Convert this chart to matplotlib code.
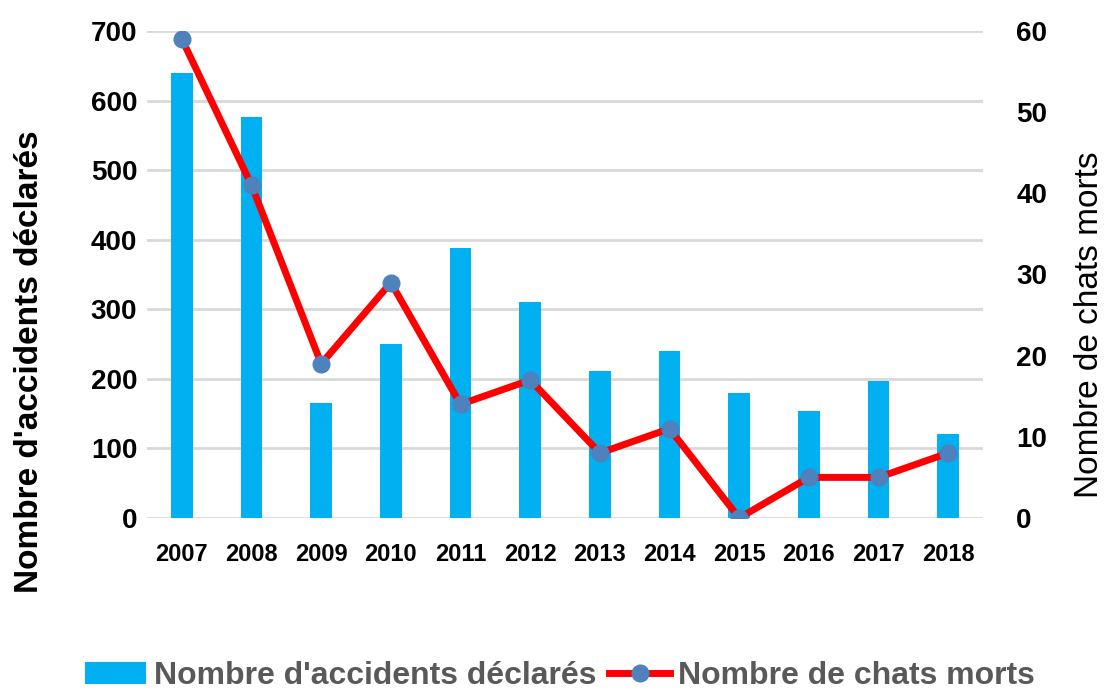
import matplotlib.pyplot as plt
import numpy as np

years = ['2007', '2008', '2009', '2010', '2011', '2012',
         '2013', '2014', '2015', '2016', '2017', '2018']
accidents = [640, 577, 165, 250, 388, 310, 211, 240, 180, 154, 197, 121]
chats_morts = [59, 41, 19, 29, 14, 17, 8, 11, 0, 5, 5, 8]

plt.rcParams['font.family'] = ['Liberation Sans', 'DejaVu Sans']

fig = plt.figure(figsize=(11.09, 6.95), dpi=100)
ax = fig.add_axes([0.1326, 0.2547, 0.7538, 0.7007])
x = np.arange(len(years))

bars = ax.bar(x, accidents, width=0.31, color='#00b0f0', zorder=2,
              label="Nombre d'accidents déclarés")
ax.set_ylim(0, 700)
ax.set_xlim(-0.5, len(years) - 0.5)
ax.set_yticks(range(0, 701, 100))
ax.grid(axis='y', color='#d9d9d9', linewidth=2, zorder=0)
ax.set_axisbelow(True)
for s in ax.spines.values():
    s.set_visible(False)
ax.tick_params(length=0)
ax.set_xticks(x)
ax.set_xticklabels(years, fontsize=17, fontweight='bold')
ax.tick_params(axis='x', pad=18)
ax.tick_params(axis='y', labelsize=20, pad=7)
for t in ax.get_yticklabels():
    t.set_fontweight('bold')
fig.text(30 / 1109, 1 - 362 / 695, "Nombre d'accidents déclarés", rotation=90,
         ha='center', va='center', fontsize=24, fontweight='bold')

ax2 = ax.twinx()
line, = ax2.plot(x, chats_morts, color='#ff0000', linewidth=5, marker='o',
                 markersize=12, markerfacecolor='#4f81bd',
                 markeredgecolor='#4f81bd', zorder=3,
                 label='Nombre de chats morts')
ax2.set_ylim(0, 60)
ax2.set_yticks(range(0, 61, 10))
for s in ax2.spines.values():
    s.set_visible(False)
ax2.tick_params(length=0, labelsize=20, pad=24)
for t in ax2.get_yticklabels():
    t.set_fontweight('bold')
fig.text(1090 / 1109, 1 - 325 / 695, 'Nombre de chats morts', rotation=90,
         ha='center', va='center', fontsize=24)

fig.legend([bars, line], ["Nombre d'accidents déclarés", 'Nombre de chats morts'],
           loc='center', bbox_to_anchor=(0.505, 0.027), ncol=2, frameon=False,
           prop={'weight': 'bold', 'size': 23},
           handlelength=1.9, handletextpad=0.25, columnspacing=0.4,
           labelcolor='#595959')

fig.savefig('out.png', dpi=100)
